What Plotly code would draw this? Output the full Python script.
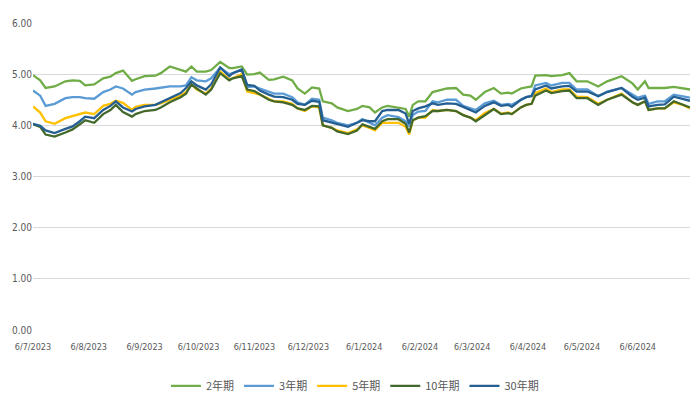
import plotly.graph_objects as go

dates = [
    "2023-07-06", "2023-07-10", "2023-07-13", "2023-07-18", "2023-07-24", "2023-07-28",
    "2023-08-01", "2023-08-04", "2023-08-09", "2023-08-14", "2023-08-18", "2023-08-21",
    "2023-08-25", "2023-08-30", "2023-09-01", "2023-09-06", "2023-09-12", "2023-09-15",
    "2023-09-20", "2023-09-26", "2023-09-29", "2023-10-02", "2023-10-05", "2023-10-10",
    "2023-10-13", "2023-10-18", "2023-10-23", "2023-10-25", "2023-10-30", "2023-11-02",
    "2023-11-06", "2023-11-09", "2023-11-14", "2023-11-17", "2023-11-22", "2023-11-27",
    "2023-11-30", "2023-12-04", "2023-12-08", "2023-12-12", "2023-12-14", "2023-12-19",
    "2023-12-22", "2023-12-28", "2024-01-02", "2024-01-05", "2024-01-09", "2024-01-12",
    "2024-01-16", "2024-01-19", "2024-01-25", "2024-01-29", "2024-01-31", "2024-02-02",
    "2024-02-05", "2024-02-09", "2024-02-13", "2024-02-16", "2024-02-21", "2024-02-26",
    "2024-03-01", "2024-03-05", "2024-03-08", "2024-03-13", "2024-03-18", "2024-03-22",
    "2024-03-26", "2024-03-28", "2024-04-02", "2024-04-05", "2024-04-08", "2024-04-10",
    "2024-04-16", "2024-04-19", "2024-04-25", "2024-04-29", "2024-05-03", "2024-05-09",
    "2024-05-15", "2024-05-20", "2024-05-28", "2024-06-03", "2024-06-06", "2024-06-10",
    "2024-06-12", "2024-06-17", "2024-06-21", "2024-06-26", "2024-07-01", "2024-07-05",
]

y2 = [
    4.98, 4.88, 4.73, 4.76, 4.86, 4.88,
    4.87, 4.78, 4.80, 4.92, 4.95, 5.02,
    5.07, 4.87, 4.90, 4.96, 4.97, 5.02,
    5.15, 5.09, 5.05, 5.15, 5.05, 5.05,
    5.08, 5.24, 5.12, 5.12, 5.15, 4.99,
    5.00, 5.03, 4.89, 4.90, 4.95, 4.88,
    4.72, 4.62, 4.74, 4.72, 4.47, 4.43,
    4.35, 4.28, 4.32, 4.38, 4.35, 4.25,
    4.35, 4.38, 4.35, 4.32, 4.17, 4.40,
    4.47, 4.47, 4.65, 4.68, 4.72, 4.73,
    4.60, 4.58, 4.50, 4.65, 4.73, 4.62,
    4.64, 4.62, 4.72, 4.74, 4.76, 4.97,
    4.98, 4.96, 4.98, 5.02, 4.86, 4.86,
    4.76, 4.86, 4.96, 4.82, 4.70, 4.86,
    4.73, 4.73, 4.73, 4.75, 4.73, 4.70,
]

y3 = [
    4.68, 4.58, 4.38, 4.42, 4.53, 4.55,
    4.55, 4.53, 4.52, 4.65, 4.70, 4.76,
    4.72, 4.60, 4.65, 4.70, 4.72, 4.73,
    4.76, 4.76, 4.78, 4.94, 4.88, 4.86,
    4.92, 5.13, 5.00, 5.02, 5.09, 4.75,
    4.76, 4.72, 4.66, 4.62, 4.62, 4.55,
    4.45, 4.40, 4.52, 4.50, 4.15, 4.10,
    4.05, 4.00, 4.05, 4.12, 4.05, 4.00,
    4.15, 4.20, 4.16, 4.08, 3.98, 4.20,
    4.27, 4.28, 4.47, 4.45, 4.50, 4.50,
    4.38, 4.33, 4.30, 4.43, 4.48, 4.40,
    4.42, 4.40, 4.50, 4.55, 4.58, 4.78,
    4.83, 4.78, 4.83, 4.83, 4.70, 4.70,
    4.57, 4.66, 4.73, 4.60, 4.54, 4.58,
    4.42, 4.47, 4.47, 4.60, 4.56, 4.54,
]

y5 = [
    4.37, 4.25, 4.08, 4.03, 4.14, 4.18,
    4.22, 4.25, 4.22, 4.38, 4.42, 4.48,
    4.44, 4.30, 4.36, 4.40, 4.40, 4.43,
    4.50, 4.58, 4.65, 4.80, 4.70, 4.62,
    4.72, 5.05, 4.90, 4.92, 5.00, 4.66,
    4.63, 4.60, 4.52, 4.47, 4.47, 4.42,
    4.33, 4.28, 4.37, 4.35, 4.00, 3.95,
    3.90, 3.85, 3.92, 4.00, 3.95, 3.90,
    4.05, 4.05, 4.05, 3.97, 3.82, 4.10,
    4.15, 4.15, 4.30, 4.28, 4.30, 4.28,
    4.20, 4.15, 4.10, 4.24, 4.32, 4.23,
    4.25, 4.22, 4.35, 4.40, 4.42, 4.63,
    4.72, 4.65, 4.70, 4.70, 4.56, 4.55,
    4.42, 4.50, 4.62, 4.45, 4.40, 4.47,
    4.30, 4.33, 4.33, 4.45, 4.40, 4.33,
]

y10 = [
    4.02, 3.97, 3.82, 3.78, 3.86, 3.92,
    4.02, 4.10, 4.05, 4.22, 4.30, 4.40,
    4.26, 4.17, 4.22, 4.28, 4.30, 4.35,
    4.45, 4.55, 4.62, 4.80, 4.72, 4.60,
    4.70, 5.02, 4.88, 4.92, 4.96, 4.70,
    4.67, 4.60, 4.50, 4.47, 4.45, 4.40,
    4.33, 4.30, 4.38, 4.37, 4.00, 3.95,
    3.88, 3.83, 3.90, 4.02, 3.96, 3.93,
    4.08, 4.12, 4.12, 4.03, 3.86, 4.10,
    4.15, 4.18, 4.28, 4.28, 4.30, 4.28,
    4.20, 4.15, 4.08, 4.20, 4.32, 4.22,
    4.24, 4.22, 4.35, 4.40, 4.42, 4.58,
    4.68, 4.63, 4.67, 4.68, 4.53, 4.53,
    4.40, 4.50, 4.60, 4.45, 4.40, 4.47,
    4.30, 4.33, 4.33, 4.47, 4.40, 4.35,
]

y30 = [
    4.03, 3.99, 3.90, 3.85, 3.93, 3.98,
    4.08, 4.17, 4.14, 4.30, 4.38, 4.47,
    4.35, 4.27, 4.32, 4.37, 4.40, 4.45,
    4.54, 4.63, 4.73, 4.86, 4.78, 4.70,
    4.80, 5.13, 4.96, 5.02, 5.09, 4.79,
    4.77, 4.68, 4.60, 4.56, 4.55, 4.50,
    4.42, 4.40, 4.48, 4.46, 4.10, 4.05,
    4.02, 3.97, 4.05, 4.10, 4.08, 4.08,
    4.28, 4.30, 4.30, 4.23, 4.03, 4.28,
    4.33, 4.37, 4.43, 4.40, 4.43, 4.42,
    4.36, 4.30, 4.25, 4.38, 4.45, 4.38,
    4.40, 4.36, 4.50, 4.55, 4.57, 4.70,
    4.78, 4.72, 4.76, 4.77, 4.66, 4.66,
    4.57, 4.65, 4.73, 4.56, 4.50, 4.54,
    4.37, 4.40, 4.41, 4.56, 4.52, 4.48,
]

series_names = ["2年期", "3年期", "5年期", "10年期", "30年期"]
series_colors = ["#70AD47", "#5B9BD5", "#FFC000", "#43682B", "#255E91"]

tick_dates = [
    "2023-07-06", "2023-08-06", "2023-09-06", "2023-10-06", "2023-11-06", "2023-12-06",
    "2024-01-06", "2024-02-06", "2024-03-06", "2024-04-06", "2024-05-06", "2024-06-06",
]
tick_labels = [
    "6/7/2023", "6/8/2023", "6/9/2023", "6/10/2023", "6/11/2023", "6/12/2023",
    "6/1/2024", "6/2/2024", "6/3/2024", "6/4/2024", "6/5/2024", "6/6/2024",
]
y_ticks = [0, 1, 2, 3, 4, 5, 6]
y_tick_labels = ["0.00", "1.00", "2.00", "3.00", "4.00", "5.00", "6.00"]

fig = go.Figure()
for name, vals, col in zip(series_names, [y2, y3, y5, y10, y30], series_colors):
    fig.add_trace(go.Scatter(
        x=dates, y=vals, mode="lines", name=name,
        line=dict(color=col, width=2.3),
    ))

label_font = "DejaVu Sans Condensed, Liberation Sans Narrow, Arial Narrow, Liberation Sans, sans-serif"

fig.update_layout(
    width=700, height=420,
    margin=dict(l=33, r=10, t=23, b=90),
    paper_bgcolor="white", plot_bgcolor="white",
    showlegend=True,
    legend=dict(
        orientation="h", x=0.49, xanchor="center", y=-0.135, yanchor="top",
        font=dict(family="Noto Sans CJK SC, " + label_font, size=11, color="#595959"),
        itemwidth=30,
    ),
    xaxis=dict(
        type="date",
        range=["2023-07-06", "2024-07-05"],
        tickmode="array", tickvals=tick_dates, ticktext=tick_labels,
        tickfont=dict(family=label_font, size=9, color="#595959"),
        showgrid=False, zeroline=False, showline=False,
        ticks="", ticklabelstandoff=10,
        tickangle=0,
    ),
    yaxis=dict(
        range=[0, 6],
        tickmode="array", tickvals=y_ticks, ticktext=y_tick_labels,
        tickfont=dict(family=label_font, size=10, color="#595959"),
        showgrid=True, gridcolor="#D9D9D9", gridwidth=1,
        zeroline=False, showline=False, ticks="",
    ),
)

fig.write_html("out.html")
